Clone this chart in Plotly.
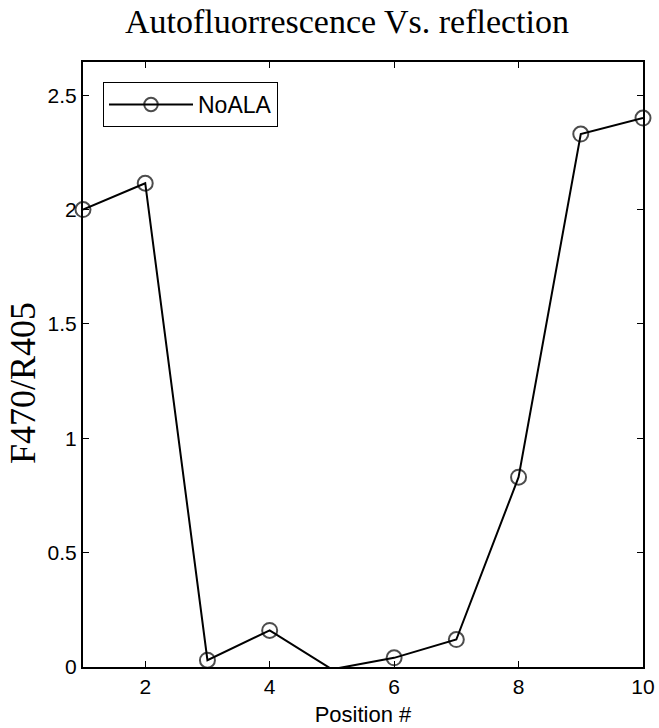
import plotly.graph_objects as go

positions = [1, 2, 3, 4, 5, 6, 7, 8, 9, 10]
ratio_noala = [2.00, 2.115, 0.03, 0.16, -0.01, 0.04, 0.12, 0.83, 2.33, 2.40]
x_ticks = [2, 4, 6, 8, 10]
y_ticks = [0, 0.5, 1, 1.5, 2, 2.5]
y_tick_labels = ["0", "0.5", "1", "1.5", "2", "2.5"]
y_range = [0, 2.645]
x_range = [1, 10]

# markers whose centre lies outside the axes are not drawn (as in the source)
marker_sizes = [15 if (y_range[0] <= v <= y_range[1]) else 0 for v in ratio_noala]

fig = go.Figure()
fig.add_trace(go.Scatter(
    x=positions, y=ratio_noala, mode="lines+markers", name="NoALA",
    line=dict(color="black", width=2),
    marker=dict(symbol="circle-open", size=marker_sizes, color="black",
                line=dict(width=2, color="black")),
    cliponaxis=False,
))

axis_common = dict(
    showgrid=False, zeroline=False, showline=True, linecolor="black", linewidth=2,
    mirror="allticks", ticks="inside", ticklen=6, tickcolor="black", tickwidth=1.2,
    automargin=False,
    tickfont=dict(family="Liberation Sans, Arial, sans-serif", size=21, color="black"),
)

fig.update_layout(
    width=659, height=728,
    margin=dict(l=83, r=16, t=62, b=61, autoexpand=False),
    paper_bgcolor="white", plot_bgcolor="white",
    title=dict(text="Autofluorrescence Vs. reflection", x=347/659, xref="container",
               xanchor="center", y=1-21/728, yref="container", yanchor="middle",
               font=dict(family="Liberation Serif, Times New Roman, serif", size=34, color="black")),
    xaxis=dict(range=x_range, tickvals=x_ticks, ticktext=[str(t) for t in x_ticks],
               title=dict(text="Position #", standoff=9,
                          font=dict(family="Liberation Sans, Arial, sans-serif", size=22, color="black")),
               **axis_common),
    yaxis=dict(range=y_range, tickvals=y_ticks, ticktext=y_tick_labels, **axis_common),
    showlegend=True,
    legend=dict(x=(103-83)/560, y=(667-82)/605, xanchor="left", yanchor="top",
                bgcolor="white", bordercolor="black", borderwidth=1, itemwidth=84,
                font=dict(family="Liberation Sans, Arial, sans-serif", size=23, color="black")),
    annotations=[dict(text="F470/R405", x=(23-83)/560, y=(667-383)/605,
                      xref="paper", yref="paper",
                      textangle=-90, showarrow=False, xanchor="center", yanchor="middle",
                      font=dict(family="Liberation Serif, Times New Roman, serif", size=36, color="black"))],
)

fig.write_html("out.html")
